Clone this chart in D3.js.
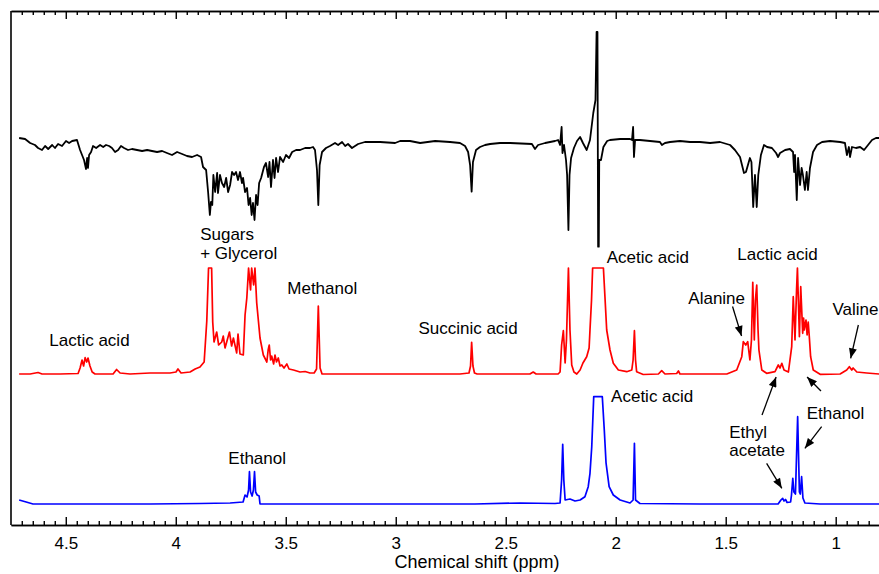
<!DOCTYPE html>
<html>
<head>
<meta charset="utf-8">
<script src="https://cdn.jsdelivr.net/npm/d3@7"></script>
<style>
  html, body { margin: 0; padding: 0; background: #fff; }
  svg { display: block; font-family: "Liberation Sans", Arial, sans-serif; }
</style>
</head>
<body>
<svg id="chart" width="879" height="574"></svg>
<script>
// ---------------- DATA (ppm, intensity in arbitrary units) ----------------
const blackSpectrum = [
 [4.712,2],[4.685,1],[4.662,-3],[4.640,-5],[4.626,-8],[4.608,-10],[4.594,-6],[4.580,-9],[4.562,-5],[4.549,-8],
 [4.535,-4],[4.517,-6],[4.499,-1],[4.485,-3],[4.471,-1],[4.449,0],[4.435,-10],[4.426,-15],[4.417,-20],[4.408,-29],
 [4.403,-18],[4.399,-28],[4.394,-15],[4.385,-12],[4.376,-6],[4.362,-8],[4.344,-5],[4.330,-7],[4.317,-5],[4.303,-6],
 [4.290,-8],[4.276,-12],[4.262,-10],[4.249,-6],[4.235,-8],[4.217,-10],[4.199,-9],[4.176,-10],[4.153,-11],[4.130,-10],
 [4.108,-11],[4.085,-12],[4.062,-11],[4.040,-13],[4.017,-15],[3.994,-12],[3.971,-14],[3.949,-16],[3.926,-17],[3.903,-15],
 [3.885,-17],[3.876,-27],[3.862,-30],[3.853,-52],[3.845,-75],[3.840,-62],[3.834,-65],[3.829,-35],[3.821,-52],[3.812,-33],
 [3.808,-53],[3.799,-35],[3.790,-43],[3.780,-47],[3.771,-38],[3.762,-52],[3.753,-45],[3.744,-32],[3.735,-35],[3.726,-32],
 [3.717,-40],[3.708,-32],[3.699,-43],[3.694,-38],[3.685,-52],[3.676,-48],[3.669,-65],[3.662,-58],[3.655,-75],[3.649,-63],
 [3.642,-80],[3.635,-55],[3.628,-65],[3.621,-43],[3.612,-38],[3.599,-27],[3.590,-23],[3.580,-37],[3.574,-22],[3.567,-47],
 [3.558,-20],[3.551,-38],[3.544,-18],[3.535,-32],[3.526,-17],[3.512,-22],[3.499,-15],[3.485,-18],[3.471,-12],[3.453,-10],
 [3.435,-10],[3.412,-8],[3.390,-8],[3.376,-7],[3.367,-10],[3.358,-30],[3.352,-65],[3.346,-25],[3.335,-12],[3.317,-8],
 [3.299,-6],[3.276,-3],[3.262,-5],[3.244,-2],[3.230,-6],[3.217,-4],[3.199,-8],[3.185,-6],[3.171,-4],[3.140,-2],
 [3.071,-2],[3.003,-3],[2.980,-1],[2.935,-1],[2.889,-3],[2.821,-1],[2.753,-2],[2.708,-3],[2.685,-6],[2.671,-12],
 [2.662,-25],[2.655,-51.7],[2.649,-22],[2.635,-10],[2.617,-7],[2.594,-5],[2.571,-4],[2.526,-3],[2.480,-3],[2.381,-4],
 [2.367,-9],[2.353,-5],[2.321,-3],[2.276,-1],[2.262,0],[2.253,-5],[2.246,13],[2.242,-13],[2.235,-5],[2.226,-20],
 [2.221,-35],[2.215,-90],[2.210,-35],[2.203,-18],[2.190,-8],[2.176,-1],[2.162,3],[2.149,-3],[2.132,-10],[2.117,0],
 [2.102,27],[2.092,40],[2.087,108],[2.083,108],[2.080,-106.7],[2.077,-106.7],[2.075,-20],[2.067,-20],[2.056,-7],[2.039,-1],
 [2.026,0],[1.980,1],[1.935,1],[1.926,0],[1.921,13],[1.917,-17],[1.912,0],[1.890,0],[1.844,-1],[1.799,-2],
 [1.790,-5],[1.776,-3],[1.753,-2],[1.708,-1],[1.662,-2],[1.617,-2],[1.571,-3],[1.526,-2],[1.480,-5],[1.458,-10],
 [1.435,-17],[1.426,-25],[1.417,-33],[1.408,-32],[1.399,-25],[1.390,-18],[1.383,-22],[1.375,-67],[1.367,-35],[1.359,-67],
 [1.352,-35],[1.340,-15],[1.326,-5],[1.312,-7],[1.290,-8],[1.271,-13],[1.262,-17],[1.253,-13],[1.230,-10],[1.208,-9],
 [1.194,-12],[1.189,-32],[1.185,-15],[1.177,-60],[1.171,-18],[1.162,-45],[1.155,-28],[1.149,-35],[1.140,-50],[1.132,-32],
 [1.126,-50],[1.117,-28],[1.103,-12],[1.085,-5],[1.062,-2],[1.026,-1],[0.980,-2],[0.958,-3],[0.949,-15],[0.940,-7],
 [0.935,-17],[0.926,-7],[0.908,-8],[0.889,-7],[0.871,-10],[0.853,-5],[0.835,0],[0.817,2],[0.803,2]
];

const redSpectrum = [
 [4.712,0],[4.662,0],[4.626,1.5],[4.608,0],[4.526,0],[4.444,0.5],[4.435,6],[4.426,14],[4.419,8],[4.412,16.3],
 [4.405,12],[4.399,16],[4.390,8],[4.380,2],[4.367,0],[4.321,0],[4.285,0],[4.269,4.5],[4.253,1],[4.208,0],
 [4.117,1],[4.026,1],[3.999,2],[3.990,5],[3.976,1],[3.935,2],[3.912,5],[3.890,7],[3.871,12],[3.859,53],
 [3.851,106],[3.837,106],[3.832,52],[3.826,32],[3.814,42],[3.805,29],[3.791,32],[3.784,38],[3.776,26],[3.756,42],
 [3.746,28],[3.738,36],[3.723,21],[3.717,40],[3.708,20],[3.693,19],[3.685,59],[3.677,76],[3.669,106],[3.660,84],
 [3.655,106],[3.646,89],[3.640,106],[3.632,71],[3.617,36],[3.602,19],[3.586,12],[3.580,24],[3.575,29],[3.569,14],
 [3.564,18],[3.555,10],[3.549,19],[3.542,12],[3.534,16],[3.526,8],[3.518,9],[3.508,6],[3.495,10],[3.485,5],
 [3.465,4],[3.435,2],[3.412,2.5],[3.390,1],[3.371,1],[3.360,5],[3.352,68],[3.344,6],[3.335,0],[3.253,0],
 [2.980,0],[2.708,0],[2.667,1],[2.660,8],[2.655,31.7],[2.649,8],[2.642,1],[2.630,0],[2.390,0],[2.375,2],
 [2.362,0],[2.262,0],[2.253,2],[2.246,29],[2.238,43.3],[2.230,11],[2.224,34],[2.215,106],[2.208,44],[2.200,9],
 [2.190,2],[2.177,0],[2.162,4],[2.149,11],[2.132,17.3],[2.121,26],[2.117,44],[2.110,74],[2.105,106],[2.056,106],
 [2.049,77.3],[2.041,44],[2.026,24],[2.011,10.7],[1.988,4],[1.950,2.3],[1.927,4],[1.921,14],[1.915,43.3],[1.910,14],
 [1.905,2.3],[1.875,-0.5],[1.806,0],[1.791,3.3],[1.776,0],[1.723,0.5],[1.715,3],[1.708,0],[1.495,0],[1.450,4],
 [1.427,17.3],[1.420,32.3],[1.409,29],[1.400,32.3],[1.390,14],[1.383,34],[1.377,91.7],[1.370,34],[1.365,74],[1.359,89],
 [1.353,44],[1.349,24],[1.336,4],[1.314,0.7],[1.276,2.3],[1.261,9],[1.253,6],[1.245,10.7],[1.235,4],[1.215,2],
 [1.200,27.3],[1.193,77.3],[1.185,34],[1.178,84],[1.174,106],[1.165,37.3],[1.159,87.3],[1.150,40.7],[1.146,56],[1.143,44],
 [1.135,54],[1.130,39],[1.125,52],[1.120,37.3],[1.114,17.3],[1.102,4],[1.071,-0.3],[0.980,0],[0.950,4],[0.938,7.3],
 [0.927,4],[0.921,6],[0.904,2],[0.859,1],[0.803,0]
];

const blueSpectrum = [
 [4.712,4],[4.680,2],[4.649,0],[4.117,0],[3.890,0.5],[3.753,1],[3.694,2],[3.685,9],[3.676,7],[3.669,14],
 [3.665,32.3],[3.660,12],[3.653,8],[3.647,14],[3.642,32.3],[3.637,12],[3.630,9],[3.621,8],[3.617,0],[3.435,0],
 [2.980,0],[2.640,0],[2.435,1],[2.276,0.5],[2.253,1],[2.246,24],[2.241,59.7],[2.236,24],[2.230,4],[2.208,5],
 [2.185,3],[2.162,4],[2.140,7.3],[2.125,17.3],[2.117,30.7],[2.109,57.3],[2.100,107.3],[2.061,107.3],[2.052,74],[2.044,41],
 [2.030,17.3],[2.011,9],[1.980,4],[1.935,1],[1.921,4],[1.915,60.7],[1.910,4],[1.890,0.5],[1.617,0],[1.262,0],
 [1.249,4],[1.241,5.7],[1.235,3],[1.228,4.5],[1.221,1.5],[1.205,2],[1.201,9],[1.195,25.7],[1.190,12],[1.183,10],
 [1.173,87.3],[1.165,12],[1.161,10],[1.155,27.3],[1.149,6],[1.140,1],[1.071,0],[0.803,0]
];

const majorTicks = [4.5, 4, 3.5, 3, 2.5, 2, 1.5, 1];
const tickLabels = ["4.5", "4", "3.5", "3", "2.5", "2", "1.5", "1"];
const xDomain = [4.749, 0.78];
const axisTitle = "Chemical shift (ppm)";

const labelTexts = ["Sugars", "+ Glycerol", "Methanol", "Succinic acid", "Lactic acid", "Acetic acid",
  "Lactic acid", "Alanine", "Valine", "Acetic acid", "Ethanol", "Ethanol", "Ethyl", "acetate"];
const labelPpm = [3.889, 3.889, 3.493, 2.897, 4.575, 2.041, 1.447, 1.670, 1.015, 2.021, 3.761, 1.132, 1.484, 1.484];
const labelLevel = [291, 271.7, 236.7, 196.7, 185, 267.7, 271, 226.7, 216, 129.3, 66.7, 111.7, 93.3, 75];

// arrows: [tailPpm, tailLevel, tipPpm, tipLevel]
const arrows = [
  [1.469, 218.5, 1.428, 189],
  [0.897, 200, 0.932, 166.7],
  [1.335, 110, 1.271, 148],
  [1.067, 134, 1.130, 148],
  [1.064, 98.3, 1.140, 76.7],
  [1.314, 61.7, 1.245, 36.7]
];

// ---------------- DRAW ----------------
const svg = d3.select("#chart");
const mLeft = 11, mTop = 11, mBottom = 525;
const x = d3.scaleLinear().domain(xDomain).range([mLeft, 884.1]);
const y = d3.scaleLinear().domain([0, 514]).range([mBottom, mTop]);

const offsets = { black: 385, red: 151, blue: 21 };
const lineGen = off => d3.line().x(d => x(d[0])).y(d => y(off + d[1]));

svg.append("path").datum(blueSpectrum).attr("d", lineGen(offsets.blue))
  .attr("fill", "none").attr("stroke", "#0000ff").attr("stroke-width", 1.7).attr("stroke-linejoin", "round");
svg.append("path").datum(redSpectrum).attr("d", lineGen(offsets.red))
  .attr("fill", "none").attr("stroke", "#ff0000").attr("stroke-width", 1.7).attr("stroke-linejoin", "round");
svg.append("path").datum(blackSpectrum).attr("d", lineGen(offsets.black))
  .attr("fill", "none").attr("stroke", "#000").attr("stroke-width", 1.8).attr("stroke-linejoin", "round");

const minorTicks = d3.range(80, 475, 5).map(v => v / 100).filter(v => majorTicks.indexOf(v) < 0);

const gb = svg.append("g").attr("transform", `translate(0,${mBottom})`);
gb.call(d3.axisBottom(x).tickValues(majorTicks).tickSizeInner(-8).tickSizeOuter(0).tickPadding(12)
  .tickFormat((d, i) => tickLabels[i]));
gb.append("g").call(d3.axisBottom(x).tickValues(minorTicks).tickSizeInner(-4).tickSizeOuter(0).tickFormat(""));
gb.selectAll("text").attr("font-size", "17px").attr("fill", "#000").attr("font-family", "Liberation Sans, Arial, sans-serif");

const gt = svg.append("g").attr("transform", `translate(0,${mTop})`);
gt.call(d3.axisTop(x).tickValues(majorTicks).tickSizeInner(-8).tickSizeOuter(0).tickFormat(""));
gt.append("g").call(d3.axisTop(x).tickValues(minorTicks).tickSizeInner(-4).tickSizeOuter(0).tickFormat(""));

svg.selectAll(".domain").attr("stroke", "#000").attr("stroke-width", 1.6);
svg.selectAll(".tick line").attr("stroke", "#000").attr("stroke-width", 1.4);

svg.append("line").attr("x1", mLeft).attr("x2", mLeft).attr("y1", mTop).attr("y2", mBottom)
  .attr("stroke", "#000").attr("stroke-width", 1.6);

svg.append("text").attr("x", 477).attr("y", 562).attr("dy", "0.35em").attr("text-anchor", "middle")
  .attr("font-size", "18px").attr("fill", "#000").text(axisTitle);

labelTexts.forEach((t, i) => {
  svg.append("text").attr("x", x(labelPpm[i])).attr("y", y(labelLevel[i])).attr("dy", "0.35em")
    .attr("font-size", "17px").attr("fill", "#000").text(t);
});

svg.append("defs").append("marker").attr("id", "ah").attr("markerUnits", "userSpaceOnUse")
  .attr("viewBox", "0 0 10 8").attr("refX", 10).attr("refY", 4)
  .attr("markerWidth", 11).attr("markerHeight", 8).attr("orient", "auto")
  .append("path").attr("d", "M0,0 L10,4 L0,8 Z").attr("fill", "#000");

arrows.forEach(a => {
  svg.append("line").attr("x1", x(a[0])).attr("y1", y(a[1])).attr("x2", x(a[2])).attr("y2", y(a[3]))
    .attr("stroke", "#000").attr("stroke-width", 1.3).attr("marker-end", "url(#ah)");
});
</script>
</body>
</html>
